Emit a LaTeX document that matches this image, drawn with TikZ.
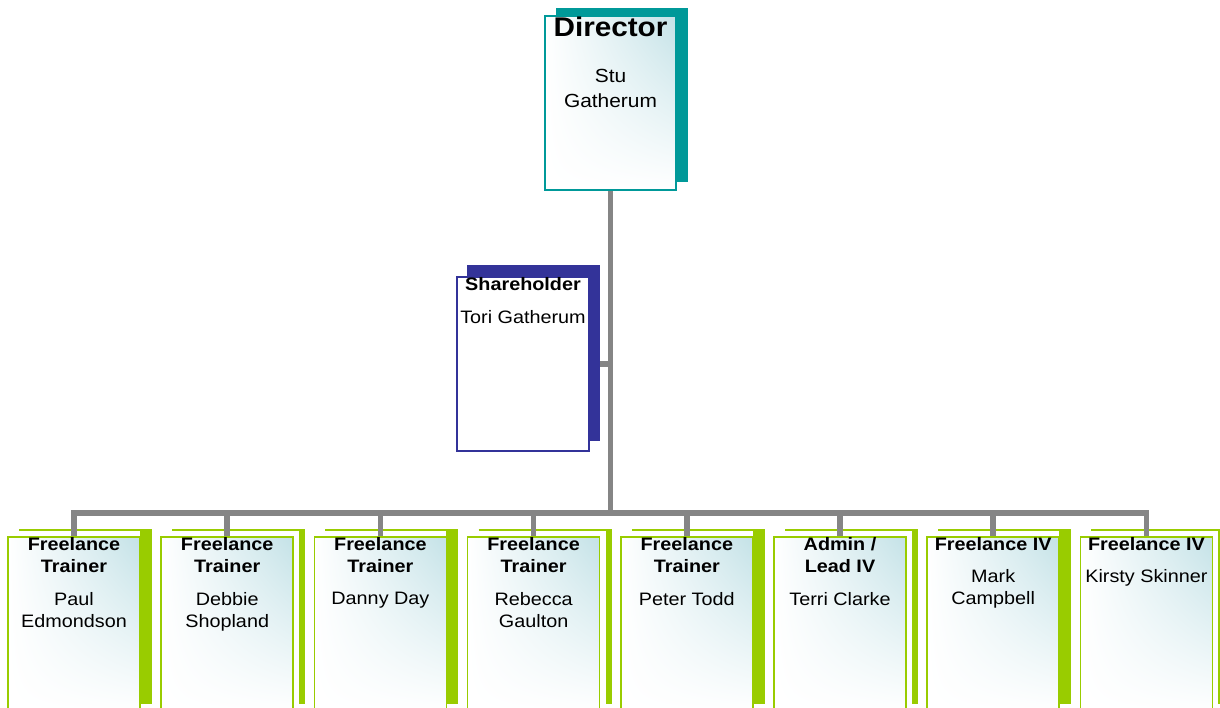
\documentclass[tikz,border=0pt]{standalone}
\usepackage{fontspec}
\setmainfont{Liberation Sans}[FakeStretch=1.1]
\usetikzlibrary{positioning,shadings}
\definecolor{leaf}{HTML}{99CC00}
\definecolor{lagoon}{HTML}{009999}
\definecolor{indigo}{HTML}{333399}
\definecolor{wire}{HTML}{858585}
\definecolor{frost}{RGB}{196,226,231}
\pgfdeclarelayer{shadows}
\pgfdeclarelayer{wires}
\pgfsetlayers{shadows,wires,main}
\tikzset{
	card/.style={rectangle, draw=#1, line width=1.5pt, inner sep=0pt, outer sep=0pt, minimum width=132pt, minimum height=175pt, anchor=north west},
	glow/.style={shade, upper right=frost, upper left=white, lower left=white, lower right=white},
	heading/.style={anchor=north, align=center, inner sep=0pt, font=\bfseries\fontsize{18}{22.4}\selectfont},
	person/.style={align=center, inner sep=0pt, font=\fontsize{18}{22}\selectfont},
	link/.style={draw=wire, line width=5.5pt}
}
\begin{document}
\begin{tikzpicture}[x=1pt, y=-1pt]
	\useasboundingbox (0,0) rectangle (1220,708);
	
	\fill[lagoon] (556,8) rectangle (688,182);
	\node[card=lagoon, glow, line width=2pt, minimum width=131pt, minimum height=174pt] (dir) at (545,16) {};
	\node[heading, font=\bfseries\fontsize{27}{30}\selectfont] (dirhead) at ([yshift=-1pt]dir.north) {Director};
	\node[person, font=\fontsize{19}{25}\selectfont, below=32pt of dirhead] (dirname) {Stu\\Gatherum};
	
	\fill[indigo] (467,265) rectangle (600,441);
	\node[card=indigo, fill=white, minimum height=174pt] (share) at (457,277) {};
	\node[heading] (sharehead) at (share.north) {Shareholder};
	\node[person, below=20pt of sharehead] (sharename) {Tori Gatherum};
	
	\foreach \i/\ttl/\who/\bar in {
		1/{Freelance\\Trainer}/{Paul\\Edmondson}/11,
		2/{Freelance\\Trainer}/{Debbie\\Shopland}/5,
		3/{Freelance\\Trainer}/{Danny Day}/11,
		4/{Freelance\\Trainer}/{Rebecca\\Gaulton}/5,
		5/{Freelance\\Trainer}/{Peter Todd}/11,
		6/{Admin /\\Lead IV}/{Terri Clarke}/5,
		7/{Freelance IV}/{Mark\\Campbell}/11,
		8/{Freelance IV}/{Kirsty Skinner}/5}{
		\pgfmathsetmacro\L{8+153.2*(\i-1)}
		\begin{pgfonlayer}{shadows}
			\draw[leaf, line width=2pt] (\L+11,530) -| (\L+143,704);
			\fill[leaf] (\L+143-\bar,529) rectangle (\L+144,704);
		\end{pgfonlayer}
		\node[card=leaf, glow] (c\i) at (\L,537) {};
		\node[heading] (t\i) at (c\i.north) {\ttl};
		\node[person, below=19pt of t\i] (p\i) {\who};
	}
	
	\begin{pgfonlayer}{wires}
		\coordinate (bus) at (610,513);
		\draw[link] (dir.south) -- (dir.south |- bus);
		\draw[link] ([xshift=11pt]share.east) -- (share.east -| dir.south);
		\draw[link] (c1.north) -- (c1.north |- bus) -- (c8.north |- bus) -- (c8.north);
		\foreach \i in {2,...,7}
			\draw[link] (c\i.north |- bus) -- (c\i.north);
	\end{pgfonlayer}
\end{tikzpicture}
\end{document}
